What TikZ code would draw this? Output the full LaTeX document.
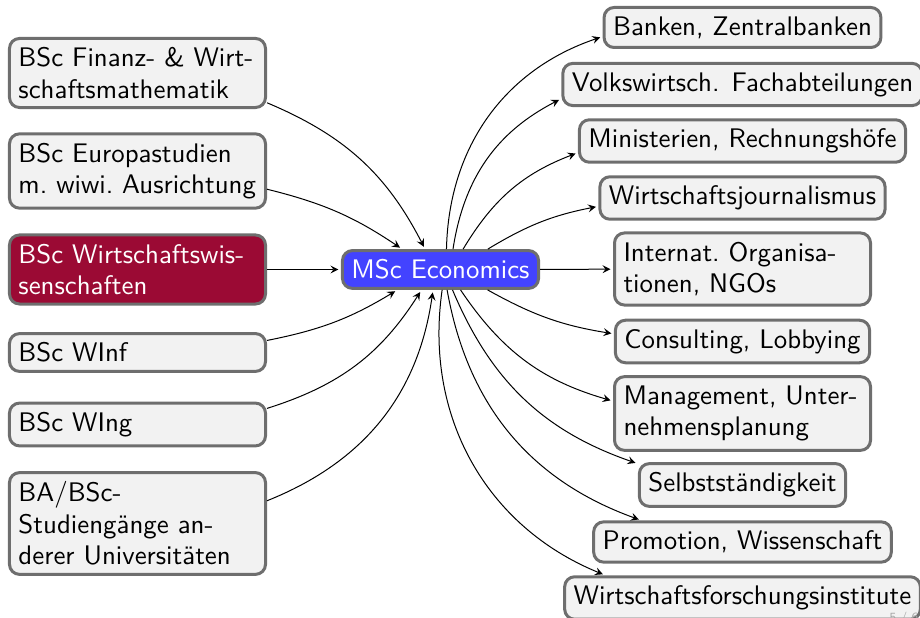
\documentclass[tikz,border=0pt]{standalone}
\usepackage{fontspec}
\usetikzlibrary{arrows}

\definecolor{boxgray}{HTML}{6E6E6E}
\definecolor{boxfill}{HTML}{F2F2F2}
\definecolor{wiwired}{HTML}{9B0A34}
\definecolor{mscblue}{HTML}{4343FF}

\tikzset{
	course/.style={rectangle, rounded corners=4pt, draw=boxgray, line width=1.2pt, fill=boxfill, inner sep=3.6pt, font=\sffamily\fontsize{10.75}{12.6}\selectfont, align=left},
	widecourse/.style={course, text width=95.2pt},
	flow/.style={->, >=stealth, line width=0.4pt, shorten >=1pt}
}

\begin{document}
\begin{tikzpicture}

	\begin{scope}[x=0.4pt, y=-0.4pt]
		\useasboundingbox (0,0) rectangle (920,618);
		
		%bachelor programmes on the left
		\node[widecourse] (fin) at (137.5,73) {BSc~Finanz-~\&~Wirt-\\schaftsmathematik};
		\node[widecourse] (eur) at (137.5,171) {BSc~Europastudien\\m.~wiwi.~Ausrichtung};
		\node[widecourse, fill=wiwired, text=white] (wiwi) at (137.5,269.5) {BSc~Wirtschaftswis-\\senschaften};
		\node[widecourse] (winf) at (137.5,352.5) {BSc WInf};
		\node[widecourse] (wing) at (137.5,424.5) {BSc WIng};
		\node[widecourse] (ba) at (137.5,523.5) {BA/BSc-\\Studiengänge~an-\\derer~Universitäten};
		
		%the master programme in the middle
		\node[course, fill=mscblue, text=white] (msc) at (440.5,269.5) {MSc Economics};
		
		%careers on the right
		\node[course] (bank) at (742.5,27.5) {Banken, Zentralbanken};
		\node[course] (vwl) at (742.5,84.5) {Volkswirtsch. Fachabteilungen};
		\node[course] (mini) at (742.5,141) {Ministerien, Rechnungshöfe};
		\node[course] (journ) at (742.5,198) {Wirtschaftsjournalismus};
		\node[widecourse] (ngo) at (742.5,269) {Internat.~Organisa-\\tionen,~NGOs};
		\node[course] (cons) at (742.5,341.5) {Consulting, Lobbying};
		\node[widecourse] (mgmt) at (742.5,413.5) {Management,~Unter-\\nehmensplanung};
		\node[course] (self) at (742.5,485) {Selbstständigkeit};
		\node[course] (prom) at (742.5,542) {Promotion, Wissenschaft};
		\node[course] (inst) at (742.5,598) {Wirtschaftsforschungsinstitute};
		
		%arrows into the master
		\draw[flow] (fin) to[bend left=20] (msc);
		\draw[flow] (eur) to[bend left=10] (msc);
		\draw[flow] (wiwi) -- (msc);
		\draw[flow] (winf) to[bend right=10] (msc);
		\draw[flow] (wing) to[bend right=20] (msc);
		\draw[flow] (ba) to[bend right=30] (msc);
		
		%arrows out of the master
		\draw[flow] (msc) to[bend left=35] (bank);
		\draw[flow] (msc) to[bend left=27] (vwl);
		\draw[flow] (msc) to[bend left=19] (mini);
		\draw[flow] (msc) to[bend left=10] (journ);
		\draw[flow] (msc) -- (ngo);
		\draw[flow] (msc) to[bend right=10] (cons);
		\draw[flow] (msc) to[bend right=20] (mgmt);
		\draw[flow] (msc) to[bend right=24] (self);
		\draw[flow] (msc) to[bend right=30] (prom);
		\draw[flow] (msc) to[bend right=38] (inst);
		
		%page number cut off at the corner
		\node[anchor=north west, inner sep=0pt, font=\sffamily\tiny, text=gray!70] (page) at (889,612) {5 / 6};
	\end{scope}

\end{tikzpicture}
\end{document}
